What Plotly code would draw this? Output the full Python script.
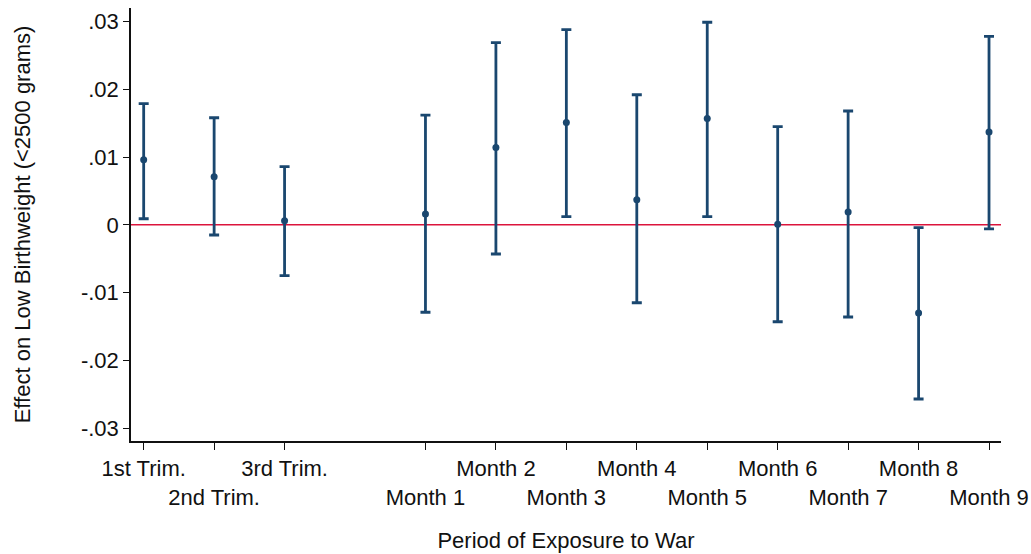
import plotly.graph_objects as go

labels = ["1st Trim.", "2nd Trim.", "3rd Trim.", "Month 1", "Month 2", "Month 3",
          "Month 4", "Month 5", "Month 6", "Month 7", "Month 8", "Month 9"]
positions = [1, 2, 3, 5, 6, 7, 8, 9, 10, 11, 12, 13]
estimate = [0.0096, 0.0071, 0.0006, 0.0016, 0.0114, 0.0151, 0.0037, 0.0157, 0.0001, 0.0019, -0.0130, 0.0137]
upper = [0.0179, 0.0158, 0.0086, 0.0162, 0.0269, 0.0288, 0.0192, 0.0299, 0.0145, 0.0168, -0.0004, 0.0278]
lower = [0.0009, -0.0015, -0.0075, -0.0129, -0.0043, 0.0012, -0.0115, 0.0012, -0.0143, -0.0136, -0.0257, -0.0006]
ytick_vals = [-0.03, -0.02, -0.01, 0, 0.01, 0.02, 0.03]
ytick_text = ["-.03", "-.02", "-.01", "0", ".01", ".02", ".03"]

navy = "#1a476f"
font = "Liberation Sans, Arial, sans-serif"
fs = 22

tick_text = [lab if i % 2 == 0 else "\u00a0<br>" + lab for i, lab in enumerate(labels)]

fig = go.Figure()
fig.add_hline(y=0, line=dict(color="#dc143c", width=1.5), layer="below")
fig.add_trace(go.Scatter(
    x=positions, y=estimate, mode="markers",
    marker=dict(color=navy, size=7),
    error_y=dict(type="data", symmetric=False,
                 array=[u - e for u, e in zip(upper, estimate)],
                 arrayminus=[e - l for e, l in zip(estimate, lower)],
                 color=navy, thickness=2.8, width=5),
    showlegend=False,
))

fig.update_layout(
    width=1031, height=554,
    margin=dict(l=131, r=30, t=8, b=113),
    plot_bgcolor="white", paper_bgcolor="white",
    font=dict(family=font, size=fs, color="#111111"),
)
fig.update_xaxes(
    range=[0.82, 13.17], tickmode="array", tickvals=positions, ticktext=tick_text,
    showgrid=False, zeroline=False, showline=True, linecolor="#111111", linewidth=1.5,
    ticks="outside", ticklen=7, tickcolor="#111111", tickwidth=1.3,
    tickfont=dict(size=fs), tickangle=0, automargin=False,
    title=dict(text="Period of Exposure to War", font=dict(size=fs), standoff=24),
)
fig.update_yaxes(
    range=[-0.0319, 0.0320], tickmode="array", tickvals=ytick_vals, ticktext=ytick_text,
    showgrid=False, zeroline=False, showline=True, linecolor="#111111", linewidth=1.5,
    ticks="outside", ticklen=6, tickcolor="#111111", tickwidth=1.3,
    tickfont=dict(size=fs), automargin=False,
    title=dict(text="Effect on Low Birthweight (<2500 grams)", font=dict(size=fs), standoff=44),
)

fig.write_html("out.html", config={"displayModeBar": False},
               post_script="document.body.style.margin='0';")
